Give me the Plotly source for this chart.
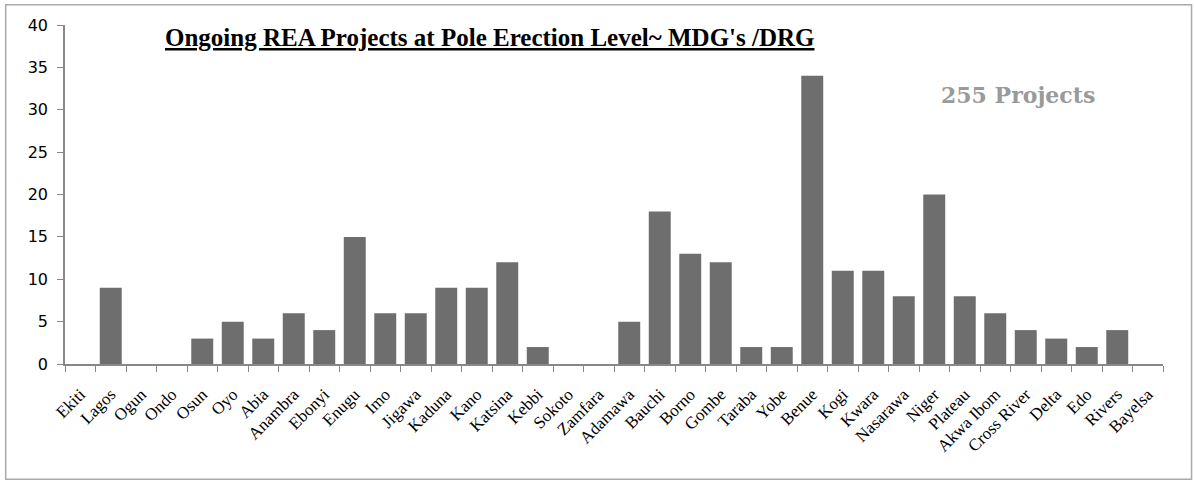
import plotly.graph_objects as go

# States and number of ongoing projects at pole erection level
states = ["Ekiti", "Lagos", "Ogun", "Ondo", "Osun", "Oyo", "Abia", "Anambra", "Ebonyi",
          "Enugu", "Imo", "Jigawa", "Kaduna", "Kano", "Katsina", "Kebbi", "Sokoto",
          "Zamfara", "Adamawa", "Bauchi", "Borno", "Gombe", "Taraba", "Yobe", "Benue",
          "Kogi", "Kwara", "Nasarawa", "Niger", "Plateau", "Akwa Ibom", "Cross River",
          "Delta", "Edo", "Rivers", "Bayelsa"]
projects = [0, 9, 0, 0, 3, 5, 3, 6, 4,
            15, 6, 6, 9, 9, 12, 2, 0,
            0, 5, 18, 13, 12, 2, 2, 34,
            11, 11, 8, 20, 8, 6, 4,
            3, 2, 4, 0]
y_ticks = [0, 5, 10, 15, 20, 25, 30, 35, 40]

fig = go.Figure(go.Bar(x=states, y=projects, marker_color="#6e6e6e",
                       marker_line_width=0))

fig.update_layout(
    width=1194, height=481,
    margin=dict(l=65, r=31, t=25, b=117),
    plot_bgcolor="white", paper_bgcolor="white",
    bargap=0.28,
    showlegend=False,
    font=dict(family="Liberation Serif", color="black"),
)
fig.update_xaxes(
    type="category", tickangle=-45, tickson="boundaries",
    ticks="outside", ticklen=6, tickcolor="#888", showline=True,
    linecolor="#888", linewidth=1.5, showgrid=False,
    ticklabelstandoff=12,
    tickfont=dict(family="Liberation Serif", size=17, color="black"),
)
fig.update_yaxes(
    range=[0, 40], tickvals=y_ticks, ticks="outside", ticklen=6, tickcolor="#888",
    showline=True, linecolor="#888", linewidth=1.5, showgrid=False, zeroline=False,
    ticklabelstandoff=6,
    tickfont=dict(family="DejaVu Sans", size=16, color="black"),
)
fig.add_annotation(
    text="<b><u>Ongoing REA Projects at Pole Erection Level~ MDG's /DRG</u></b>",
    xref="paper", yref="paper", x=0.387, y=0.962, xanchor="center",
    yanchor="middle", showarrow=False,
    font=dict(family="Liberation Serif", size=25, color="black"),
)
fig.add_annotation(
    text="<b>255 Projects</b>",
    xref="paper", yref="paper", x=0.868, y=0.794, xanchor="center",
    yanchor="middle", showarrow=False,
    font=dict(family="DejaVu Serif", size=22, color="#9a9a9a"),
)
# outer frame
fig.add_shape(type="rect", xref="paper", yref="paper",
              x0=-0.054, x1=1.026, y0=-0.34, y1=1.06,
              line=dict(color="#aaa", width=1.5))

fig.write_html("out.html")
